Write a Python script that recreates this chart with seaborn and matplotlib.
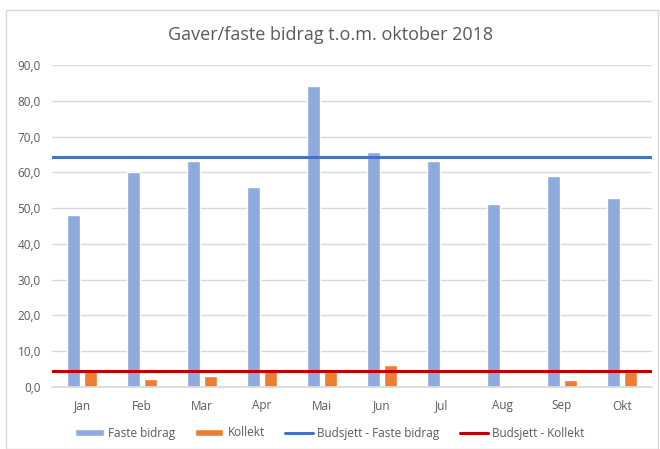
import matplotlib
matplotlib.use("Agg")
import matplotlib.pyplot as plt
import numpy as np
import pandas as pd
import seaborn as sns
from matplotlib.lines import Line2D
from matplotlib.patches import Patch, Rectangle
from matplotlib.ticker import FuncFormatter, MultipleLocator

# Data
months = ["Jan", "Feb", "Mar", "Apr", "Mai", "Jun", "Jul", "Aug", "Sep", "Okt"]
faste_bidrag = [48.0, 60.0, 63.2, 56.0, 84.2, 65.6, 63.2, 51.1, 59.0, 52.8]
kollekt = [4.9, 2.1, 3.1, 5.1, 4.3, 6.1, 0.0, 0.5, 1.9, 4.3]
budsjett_faste = 64.3
budsjett_kollekt = 4.4

series_names = ["Faste bidrag", "Kollekt"]
colors = {"Faste bidrag": "#8FAADC", "Kollekt": "#ED7D31"}
line_blue = "#4472C4"
line_red = "#C00000"
text_grey = "#595959"

df = pd.DataFrame({
    "month": months * 2,
    "value": faste_bidrag + kollekt,
    "series": ["Faste bidrag"] * len(months) + ["Kollekt"] * len(months),
})

sns.set_theme(style="white")
plt.rcParams["font.family"] = ["Open Sans", "DejaVu Sans"]

fig = plt.figure(figsize=(6.6, 4.49), dpi=100)
ax = fig.add_axes([52 / 660, 1 - 387 / 449, 600 / 660, (387 - 65) / 449])

sns.barplot(data=df, x="month", y="value", hue="series", hue_order=series_names,
            palette=colors, width=0.57, gap=0.2, saturation=1, ax=ax,
            legend=False, errorbar=None)

ax.axhline(budsjett_faste, color=line_blue, lw=2.2, zorder=3)
ax.axhline(budsjett_kollekt, color=line_red, lw=2.2, zorder=3)

ax.set_xlim(-0.5, len(months) - 0.5)
ax.set_ylim(0, 90)
ax.yaxis.set_major_locator(MultipleLocator(10))
ax.yaxis.set_major_formatter(FuncFormatter(lambda v, _: f"{v:.1f}".replace(".", ",")))
ax.grid(axis="y", color="#D9D9D9", lw=1)
ax.set_axisbelow(True)
for side in ["top", "right", "left"]:
    ax.spines[side].set_visible(False)
ax.spines["bottom"].set_color("#D9D9D9")
ax.tick_params(axis="both", length=0, labelsize=8.5, labelcolor=text_grey)
ax.tick_params(axis="x", pad=9)
ax.tick_params(axis="y", pad=8)
ax.set_xlabel("")
ax.set_ylabel("")

fig.text(0.5, 1 - 35 / 449, "Gaver/faste bidrag t.o.m. oktober 2018",
         ha="center", va="center", fontsize=13, color=text_grey)

handles = [
    Patch(facecolor=colors["Faste bidrag"], label="Faste bidrag"),
    Patch(facecolor=colors["Kollekt"], label="Kollekt"),
    Line2D([0], [0], color=line_blue, lw=2.2, label="Budsjett - Faste bidrag"),
    Line2D([0], [0], color=line_red, lw=2.2, label="Budsjett - Kollekt"),
]
fig.legend(handles=handles, loc="center", bbox_to_anchor=(0.5, 1 - 433 / 449),
           ncol=4, frameon=False, fontsize=8.5, labelcolor=text_grey,
           handlelength=2.4, handleheight=0.6, columnspacing=1.7, handletextpad=0.35)

# light chart border like the spreadsheet chart area
fig.patches.append(Rectangle((6 / 660, 0), 652 / 660, 1 - 10 / 449,
                             transform=fig.transFigure, fill=False,
                             edgecolor="#D9D9D9", lw=1))

fig.savefig("out.png", dpi=100)
